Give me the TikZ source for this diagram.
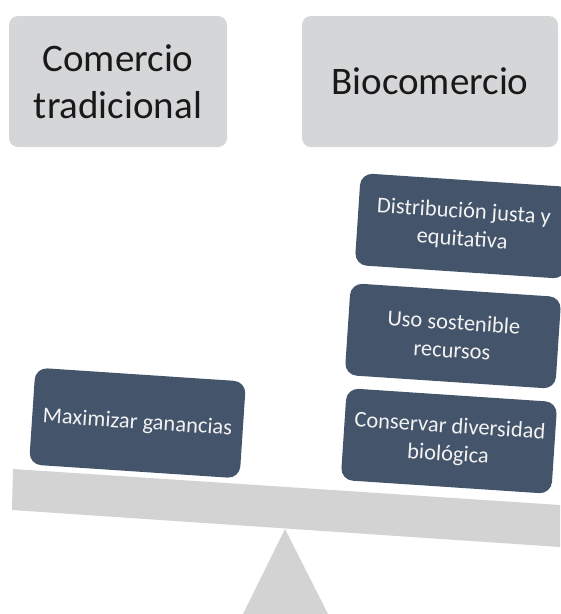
\documentclass[tikz,border=0pt]{standalone}
\usepackage{fontspec}
\setmainfont{Carlito}
\definecolor{topgray}{HTML}{D5D6D8}
\definecolor{beamgray}{HTML}{D3D3D4}
\definecolor{darkbox}{HTML}{44546A}
\definecolor{boxtext}{HTML}{F2F2F2}
\begin{document}
\begin{tikzpicture}[x=1pt,y=-1pt,
  topbox/.style={fill=topgray, rounded corners=9pt, inner sep=0pt, align=center,
    font=\fontsize{39}{47}\selectfont, text=black!90},
  goalbox/.style={fill=darkbox, rounded corners=12pt, inner sep=0pt, align=center,
    minimum width=211pt, minimum height=92pt, rotate=-3.8,
    font=\fontsize{22.5}{28}\selectfont, text=boxtext}]
\useasboundingbox (0,0) rectangle (561,614);
\clip (0,0) rectangle (561,614);
% header boxes
\node[topbox, minimum width=218pt, minimum height=131pt] (trad) at (118,81.5) {Comercio\\tradicional};
\node[topbox, minimum width=256pt, minimum height=131pt] (bio) at (430,81.5) {Biocomercio};
% fulcrum and beam
\fill[beamgray] (285,529) -- (243,614) -- (328,614) -- cycle;
\fill[beamgray] (13,469) -- (560,505) -- (560,547) -- (12,510) -- cycle;
% goal boxes
\node[goalbox, minimum height=97pt] (max) at (137.5,423) {Maximizar ganancias};
\node[goalbox] (cons) at (449,441) {Conservar diversidad\\biológica};
\node[goalbox] (uso) at (453,336) {Uso sostenible\\recursos};
\node[goalbox] (dist) at (463,226) {Distribución justa y\\equitativa};
\end{tikzpicture}
\end{document}
